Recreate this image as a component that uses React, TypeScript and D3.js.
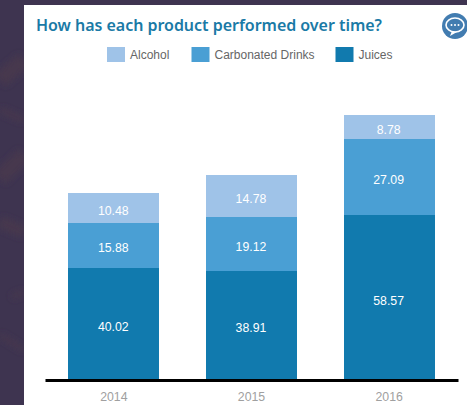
import React, { useEffect, useRef } from "react";
import * as d3 from "d3";

const years = ["2014", "2015", "2016"];
const juices = [40.02, 38.91, 58.57];
const carbonated = [15.88, 19.12, 27.09];
const alcohol = [10.48, 14.78, 8.78];
const legendNames = ["Alcohol", "Carbonated Drinks", "Juices"];
const seriesKeys = ["juices", "carbonated", "alcohol"];

const width = 467;
const height = 405;
const labelFont = "'Liberation Sans', Arial, sans-serif";

const App: React.FC = () => {
  const svgRef = useRef<SVGSVGElement>(null);

  useEffect(() => {
    if (!svgRef.current) return;
    const svg = d3.select(svgRef.current);
    svg.selectAll("*").remove();

    const margin = { left: 45, right: 9, top: 60, bottom: 25 };
    const axisY = height - margin.bottom;

    // dark page behind the card, with a few faint streaks
    const defs = svg.append("defs");
    defs
      .append("filter")
      .attr("id", "soft")
      .append("feGaussianBlur")
      .attr("stdDeviation", 3);
    svg.append("rect").attr("width", width).attr("height", height).attr("fill", "#3e3450");
    const streaks = svg
      .append("g")
      .attr("filter", "url(#soft)")
      .attr("stroke", "#47384e")
      .attr("fill", "none");
    streaks.append("path").attr("d", "M0,80 L24,60").attr("stroke-width", 16);
    streaks.append("path").attr("d", "M0,110 L24,120").attr("stroke-width", 6);
    streaks.append("path").attr("d", "M0,178 L24,155").attr("stroke-width", 16);
    streaks.append("path").attr("d", "M0,222 L24,232").attr("stroke-width", 12);
    streaks.append("path").attr("d", "M12,297 L24,292").attr("stroke-width", 5);
    streaks.append("path").attr("d", "M0,335 L24,350").attr("stroke-width", 5);
    svg.append("rect").attr("x", 24).attr("y", 5).attr("width", width - 24).attr("height", height - 5).attr("fill", "#fff");

    svg
      .append("text")
      .attr("x", 36)
      .attr("y", 31)
      .attr("font-family", "'Noto Sans', sans-serif")
      .attr("font-weight", 600)
      .attr("font-size", 16)
      .attr("textLength", 346)
      .attr("fill", "#1a7aa6")
      .text("How has each product performed over time?");

    // chat icon
    const icon = svg.append("g").attr("transform", "translate(455,26)");
    icon.append("circle").attr("r", 13).attr("fill", "#427cb0");
    icon.append("ellipse").attr("cy", -1).attr("rx", 9).attr("ry", 7).attr("fill", "none").attr("stroke", "#fff").attr("stroke-width", 1.6);
    icon.append("path").attr("d", "M-3,5 L-5,10 L2,6").attr("fill", "#fff");
    [-3.5, 0, 3.5].forEach((dx) => {
      icon.append("circle").attr("cx", dx).attr("cy", -1).attr("r", 1).attr("fill", "#fff");
    });

    const color = d3
      .scaleOrdinal<string, string>()
      .domain(seriesKeys)
      .range(["#117aae", "#4a9fd4", "#9fc3e8"]);

    // legend
    const legendX = [107, 191.5, 335.5];
    const legendKeys = ["alcohol", "carbonated", "juices"];
    legendNames.forEach((name, i) => {
      const g = svg.append("g").attr("transform", `translate(${legendX[i]},47)`);
      g.append("rect").attr("width", 18).attr("height", 15).attr("fill", color(legendKeys[i]));
      g.append("text")
        .attr("x", 23)
        .attr("y", 12)
        .attr("font-family", labelFont)
        .attr("font-size", 12)
        .attr("fill", "#666")
        .text(name);
    });

    const rows = years.map((year, i) => ({
      year,
      juices: juices[i],
      carbonated: carbonated[i],
      alcohol: alcohol[i],
    }));
    const stacked = d3.stack<any>().keys(seriesKeys)(rows);

    const x = d3
      .scaleBand()
      .domain(years)
      .range([margin.left, width - margin.right])
      .paddingInner(0.34)
      .paddingOuter(0.17);
    const y = d3.scaleLinear().domain([0, 100]).range([axisY, axisY - 281]);

    stacked.forEach((layer) => {
      const g = svg.append("g");
      g.selectAll("rect")
        .data(layer)
        .enter()
        .append("rect")
        .attr("x", (d: any) => x(d.data.year)!)
        .attr("y", (d: any) => y(d[1]))
        .attr("width", x.bandwidth())
        .attr("height", (d: any) => y(d[0]) - y(d[1]))
        .attr("shape-rendering", "crispEdges")
        .attr("fill", color(layer.key));
      g.selectAll("text")
        .data(layer)
        .enter()
        .append("text")
        .attr("x", (d: any) => x(d.data.year)! + x.bandwidth() / 2 - 0.5)
        .attr("y", (d: any) => (y(d[0]) + y(d[1])) / 2 + 2.5)
        .attr("dy", "0.35em")
        .attr("text-anchor", "middle")
        .attr("font-family", labelFont)
        .attr("font-size", 12.3)
        .attr("fill", "#fff")
        .text((d: any) => (d[1] - d[0]).toFixed(2));
    });

    const axis = svg
      .append("g")
      .attr("transform", `translate(0,${axisY})`)
      .call(d3.axisBottom(x).tickSize(0).tickPadding(12));
    axis.select(".domain").attr("stroke", "#000").attr("stroke-width", 3);
    axis
      .selectAll("text")
      .attr("font-family", labelFont)
      .attr("font-size", 12.3)
      .attr("fill", "#a0a0a0");
  }, []);

  return (
    <svg
      ref={svgRef}
      width={width}
      height={height}
      style={{ position: "fixed", left: 0, top: 0, display: "block" }}
    ></svg>
  );
};

export default App;
